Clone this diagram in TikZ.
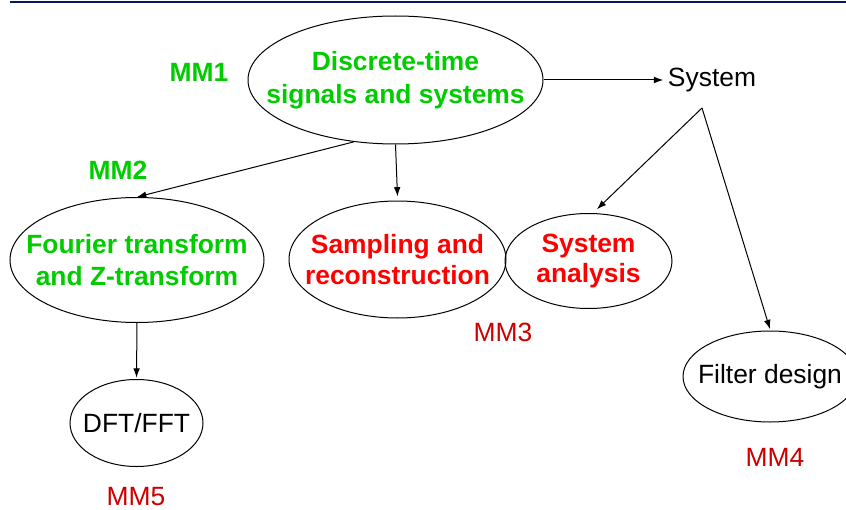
\documentclass[tikz,border=0pt]{standalone}
\usepackage{fontspec}
\setmainfont{Liberation Sans}
\usepackage{xcolor}
\usetikzlibrary{arrows.meta,shapes.geometric,positioning}
\definecolor{mmgreen}{RGB}{0,204,0}
\definecolor{mmred}{RGB}{255,0,0}
\definecolor{mmdark}{RGB}{204,0,0}
\definecolor{barblue}{RGB}{10,25,85}

\begin{document}
\begin{tikzpicture}[x=0.75pt,y=-0.75pt,
		every node/.style={font=\fontsize{19.8}{23.5}\selectfont},
		topic/.style={ellipse, draw, line width=0.75pt, inner xsep=-25pt, inner ysep=0pt, align=center},
		link/.style={line width=0.75pt, -{Latex[length=7pt,width=5pt]}},
		greentag/.style={text=mmgreen, font=\fontsize{19.8}{23.5}\selectfont\bfseries},
		redtag/.style={text=mmdark}]
		\useasboundingbox (0,0) rectangle (846,510);
		\clip (0,0) rectangle (846,510);
		\draw [barblue, line width=1pt] (10,2) -- (846,2);
		% topics
		\node [topic, minimum width=221.25pt, minimum height=96pt, text=mmgreen, font=\fontsize{19.8}{24.5}\selectfont\bfseries] (disc) at (395.5,80) {Discrete-time\\signals and systems};
		\node [topic, minimum width=190.5pt, minimum height=93.75pt, text=mmgreen, font=\fontsize{19.8}{23.5}\selectfont\bfseries] (four) at (137,260) {Fourier transform\\and Z-transform};
		\node [topic, minimum width=162.75pt, minimum height=87.75pt, text=mmred, font=\fontsize{19.8}{23}\selectfont\bfseries] (samp) at (397.5,259.5) {Sampling and\\reconstruction};
		\node [topic, minimum width=125.25pt, minimum height=71.25pt, text=mmred, font=\fontsize{19.8}{23}\selectfont\bfseries] (ana) at (588.5,261) {System\\analysis};
		\node [topic, minimum width=130.5pt, minimum height=68.25pt] (filt) at (770,376.5) {Filter design};
		\node [topic, minimum width=99.75pt, minimum height=65.25pt] (dft) at (136.5,423) {DFT/FFT};
		\node (sys) at (712,80) {System};
		\coordinate (fork) at (702,108);
		% tags
		\node [greentag] (mm1) at (199,72) {MM1};
		\node [greentag] (mm2) at (118,170) {MM2};
		\node [redtag] (mm3) at (503,332) {MM3};
		\node [redtag] (mm4) at (775,457) {MM4};
		\node [redtag] (mm5) at (136,497) {MM5};
		% links
		\draw [link] (disc.east) -- (sys.west);
		\draw [link] (disc.236) -- (four.north);
		\draw [link] (disc.south) -- ([yshift=3pt]samp.north);
		\draw [link] (fork) -- ([yshift=3pt]ana.80);
		\draw [link] (fork) -- ([yshift=1pt]filt.north);
		\draw [link] (four.south) -- ([yshift=1pt]dft.north);
	\end{tikzpicture}
\end{document}
